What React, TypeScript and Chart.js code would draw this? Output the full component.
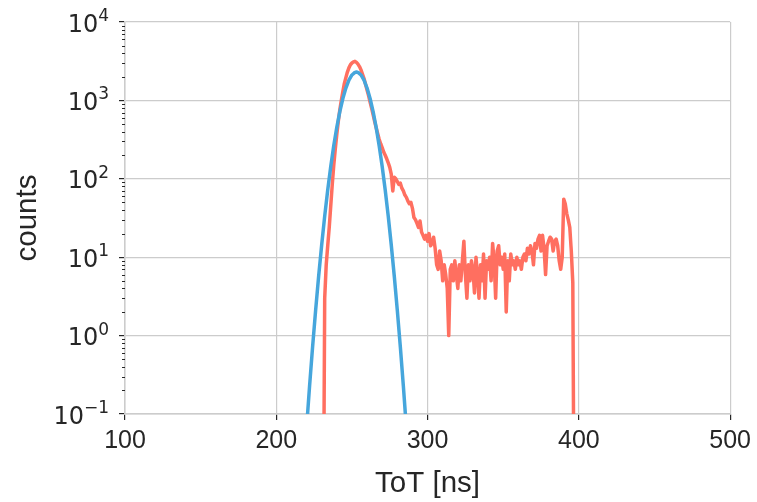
import React, { useEffect, useRef } from 'react';
import { Chart, registerables } from 'chart.js';

Chart.register(...registerables);

// ToT bins (ns) and measured counts (red histogram line)
const measuredTot = [
  230, 231, 232, 233, 234, 235, 236, 237, 238, 239,
  240, 241, 242, 243, 244, 245, 246, 247, 248, 249,
  250, 251, 252, 253, 254, 255, 256, 257, 258, 259,
  260, 261, 262, 263, 264, 265, 266, 267, 268, 269,
  270, 271, 272, 273, 274, 275, 276, 277, 278, 279,
  280, 281, 282, 283, 284, 285, 286, 287, 288, 289,
  290, 291, 292, 293, 294, 295, 296, 297, 298, 299,
  300, 301, 302, 303, 304, 305, 306, 307, 308, 309,
  310, 311, 312, 313, 314, 315, 316, 317, 318, 319,
  320, 321, 322, 323, 324, 325, 326, 327, 328, 329,
  330, 331, 332, 333, 334, 335, 336, 337, 338, 339,
  340, 341, 342, 343, 344, 345, 346, 347, 348, 349,
  350, 351, 352, 353, 354, 355, 356, 357, 358, 359,
  360, 361, 362, 363, 364, 365, 366, 367, 368, 369,
  370, 371, 372, 373, 374, 375, 376, 377, 378, 379,
  380, 381, 382, 383, 384, 385, 386, 387, 388, 389,
  390, 391, 392, 393, 394, 395, 396, 397,
];
const measuredCounts = [
  0.001, 0.001, 3, 8, 14, 24, 45, 85, 150, 240,
  370, 540, 760, 1000, 1300, 1650, 1950, 2300, 2600, 2850,
  3000, 3100, 3150, 3050, 2900, 2700, 2450, 2150, 1900, 1600,
  1350, 1150, 950, 800, 660, 540, 450, 380, 320, 280,
  250, 220, 200, 180, 160, 140, 115, 70, 105, 100,
  92, 85, 88, 76, 70, 62, 58, 52, 48, 50,
  42, 32, 30, 27, 24, 29, 21, 19, 17, 19,
  16, 20, 14, 15, 18, 13, 8, 7, 12, 9,
  5, 8, 6, 4, 1, 7, 8, 5, 9, 6,
  4, 8, 5, 9, 16, 6, 3, 8, 5, 9,
  7, 3.5, 10, 6, 3, 8, 5, 11, 3, 9,
  7, 10, 5, 15, 9, 3, 12, 14, 8, 10,
  7, 11, 2, 9, 5, 11, 8, 9, 7, 10,
  8, 9, 7, 10, 11, 9, 13, 11, 14, 12,
  8, 15, 13, 17, 19, 12, 19, 13, 6, 14,
  16, 18, 17, 12, 16, 17, 14, 9, 7, 10,
  55, 48, 36, 30, 24, 12, 4.7, 0.001,
];

// Gaussian fit (blue line)
const fitTot = [
  220, 222, 224, 226, 228, 230, 232, 234, 236, 238,
  240, 242, 244, 246, 248, 250, 252, 253, 254, 256,
  258, 260, 262, 264, 266, 268, 270, 272, 274, 276,
  278, 280, 282, 284, 286,
];
const fitCounts = [
  0.066, 0.227, 0.718, 2.1, 5.71, 14.3, 33.4, 71.9, 143.5, 265,
  454, 720, 1057, 1436, 1808, 2109, 2278, 2300, 2278, 2109,
  1808, 1436, 1057, 720, 454, 265, 143.5, 71.9, 33.4, 14.3,
  5.71, 2.1, 0.718, 0.227, 0.066,
];

const xTicks = [100, 200, 300, 400, 500];
const yTicks = [0.1, 1, 10, 100, 1000, 10000];
const yTickBase = '10';
const yTickExponents = ['−1', '0', '1', '2', '3', '4'];
const yMinorMultipliers = [2, 3, 4, 5, 6, 7, 8, 9];

const RED = '#ff6f60';
const BLUE = '#46a6dc';
const GRID = '#cccccc';
const TEXT = '#262626';
const FONT = "'Liberation Sans', Arial, sans-serif";
const MATH_FONT = "'DejaVu Sans', sans-serif";
const TICK_SIZE = 25;
const MATH_SIZE = 24;
const EXP_SIZE = 17;
const TITLE_SIZE = 29.5;

const yAxisDecorPlugin = {
  id: 'yAxisDecor',
  afterDraw(chart: any) {
    const ys = chart.scales.y;
    const ctx = chart.ctx;
    const left = chart.chartArea.left;
    ctx.save();
    // minor ticks
    ctx.strokeStyle = TEXT;
    ctx.lineWidth = 1;
    for (let i = 0; i < yTicks.length - 1; i++) {
      for (const m of yMinorMultipliers) {
        const v = yTicks[i] * m;
        const py = Math.round(ys.getPixelForValue(v)) + 0.5;
        ctx.beginPath();
        ctx.moveTo(left, py);
        ctx.lineTo(left - 3, py);
        ctx.stroke();
      }
    }
    // tick labels 10^n
    ctx.fillStyle = TEXT;
    ctx.textBaseline = 'alphabetic';
    ctx.textAlign = 'left';
    const rightEdge = left - 16;
    yTicks.forEach((v, i) => {
      const py = ys.getPixelForValue(v);
      const baseline = py + 9.5;
      const exp = yTickExponents[i];
      ctx.font = `${EXP_SIZE}px ${MATH_FONT}`;
      const expW = ctx.measureText(exp).width;
      ctx.font = `${MATH_SIZE}px ${MATH_FONT}`;
      const baseW = ctx.measureText(yTickBase).width;
      const x0 = rightEdge - expW - baseW;
      ctx.fillText(yTickBase, x0, baseline);
      ctx.font = `${EXP_SIZE}px ${MATH_FONT}`;
      ctx.fillText(exp, x0 + baseW, baseline - 10.5);
    });
    ctx.restore();
  },
};

export default function App() {
  const canvasRef = useRef<HTMLCanvasElement | null>(null);

  useEffect(() => {
    const canvas = canvasRef.current;
    if (!canvas) return;
    const chart = new Chart(canvas, {
      type: 'line',
      data: {
        datasets: [
          {
            label: 'fit',
            data: fitTot.map((x, i) => ({ x, y: fitCounts[i] })),
            borderColor: BLUE,
            borderWidth: 3.5,
            pointRadius: 0,
            tension: 0,
            fill: false,
            clip: 0,
            borderJoinStyle: 'round',
            borderCapStyle: 'round',
          },
          {
            label: 'counts',
            data: measuredTot.map((x, i) => ({ x, y: measuredCounts[i] })),
            borderColor: RED,
            borderWidth: 3.5,
            pointRadius: 0,
            tension: 0,
            fill: false,
            clip: 0,
            borderJoinStyle: 'round',
            borderCapStyle: 'round',
          },
        ],
      },
      options: {
        animation: false,
        responsive: false,
        maintainAspectRatio: false,
        events: [],
        layout: { padding: { top: 22, right: 26, left: 0, bottom: 0 } },
        plugins: {
          legend: { display: false },
          tooltip: { enabled: false },
        },
        scales: {
          x: {
            type: 'linear',
            min: 100,
            max: 500,
            afterBuildTicks: (scale: any) => {
              scale.ticks = xTicks.map((v) => ({ value: v }));
            },
            afterFit: (scale: any) => {
              scale.height = 88;
            },
            ticks: {
              color: TEXT,
              font: { family: FONT, size: TICK_SIZE },
              padding: 6,
              maxRotation: 0,
              autoSkip: false,
            },
            grid: {
              color: GRID,
              lineWidth: 1.2,
              tickColor: TEXT,
              tickLength: 6,
              tickWidth: 1.2,
            },
            border: { color: GRID, width: 1.5 },
            title: {
              display: true,
              text: 'ToT [ns]',
              color: TEXT,
              font: { family: FONT, size: TITLE_SIZE },
              padding: { top: 0, bottom: 0 },
            },
          },
          y: {
            type: 'logarithmic',
            min: 0.1,
            max: 10000,
            afterBuildTicks: (scale: any) => {
              scale.ticks = yTicks.map((v) => ({ value: v }));
            },
            afterFit: (scale: any) => {
              scale.width = 125;
            },
            ticks: {
              color: TEXT,
              font: { family: FONT, size: TICK_SIZE },
              padding: 6,
              autoSkip: false,
              callback: () => '',
            },
            grid: {
              color: GRID,
              lineWidth: 1.2,
              tickColor: TEXT,
              tickLength: 6,
              tickWidth: 1.2,
            },
            border: { color: GRID, width: 1.5 },
            title: {
              display: true,
              text: 'counts',
              color: TEXT,
              font: { family: FONT, size: TITLE_SIZE },
              padding: { top: 10, bottom: 0 },
            },
          },
        },
      },
      plugins: [yAxisDecorPlugin],
    } as any);
    return () => chart.destroy();
  }, []);

  return (
    <div style={{ position: 'fixed', left: 0, top: 0, width: 757, height: 502, background: '#fff' }}>
      <canvas ref={canvasRef} width={757} height={502} style={{ display: 'block' }} />
    </div>
  );
}
